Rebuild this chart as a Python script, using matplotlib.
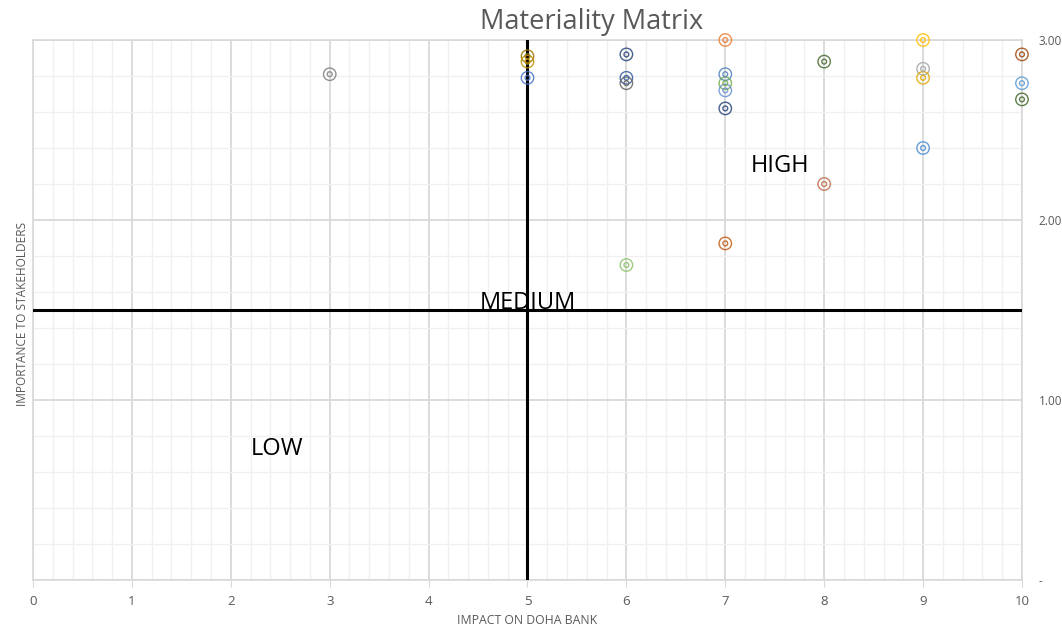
import matplotlib.pyplot as plt
from matplotlib.ticker import MultipleLocator

plt.rcParams['font.family'] = ['Open Sans', 'DejaVu Sans']

# impact on bank (x), importance to stakeholders (y), marker colour
impact = [3, 5, 5, 5, 6, 6, 6, 7, 7, 7, 7, 7, 8, 9, 9, 9, 10, 10, 10, 9, 8, 7, 6]
importance = [2.81, 2.91, 2.88, 2.79, 2.92, 2.79, 2.76, 3.00, 2.81, 2.76, 2.72, 2.62,
              2.88, 3.00, 2.84, 2.79, 2.92, 2.76, 2.67, 2.40, 2.20, 1.87, 1.75]
colors = ['#7F7F7F', '#997300', '#BF9000', '#4472C4', '#264478', '#335AA1', '#636363',
          '#ED7D31', '#4F81BD', '#70AD47', '#698ED0', '#264478', '#43682B', '#FFC000',
          '#A5A5A5', '#E0A800', '#9E480E', '#5B9BD5', '#43682B', '#4C8BD0', '#BC6B45',
          '#C55A11', '#8CC168']

x_ticks = list(range(0, 11))
y_ticks = [0, 1, 2, 3]
y_tick_labels = ['-', '1.00', '2.00', '3.00']

fig = plt.figure(figsize=(10.62, 6.28), dpi=100)
ax = fig.add_axes([0.0311, 0.0764, 0.9312, 0.8599])

ax.set_xlim(0, 10)
ax.set_ylim(0, 3)

# grid
ax.xaxis.set_major_locator(MultipleLocator(1))
ax.xaxis.set_minor_locator(MultipleLocator(0.2))
ax.yaxis.set_major_locator(MultipleLocator(1))
ax.yaxis.set_minor_locator(MultipleLocator(0.2))
ax.grid(which='major', color='#D9D9D9', linewidth=1.3)
ax.grid(which='minor', color='#F0F0F0', linewidth=1.0)
ax.set_axisbelow(True)
for s in ax.spines.values():
    s.set_color('#D9D9D9')
    s.set_linewidth(1.2)

# quadrant lines
ax.axvline(5, color='black', linewidth=2.2, zorder=3)
ax.axhline(1.5, color='black', linewidth=2.2, zorder=3)

# target-style markers
ax.scatter(impact, importance, s=80, facecolors='none', edgecolors=colors,
           linewidths=1.0, alpha=0.85, zorder=4, clip_on=False)
ax.scatter(impact, importance, s=12, facecolors='none', edgecolors=colors,
           linewidths=1.0, alpha=0.85, zorder=4, clip_on=False)

# ticks
ax.set_xticks(x_ticks)
ax.set_xticklabels([str(t) for t in x_ticks])
ax.set_yticks(y_ticks)
ax.set_yticklabels(y_tick_labels)
ax.yaxis.tick_right()
ax.tick_params(axis='x', which='major', length=5, color='#D9D9D9', labelsize=9.5,
               labelcolor='#595959', pad=6)
ax.tick_params(axis='y', which='major', length=0, labelsize=8.5,
               labelcolor='#595959', pad=12)
ax.tick_params(which='minor', length=0)

ax.set_xlabel('IMPACT ON DOHA BANK', fontsize=8.8, color='#595959', labelpad=4)
fig.text(0.021, 0.5, 'IMPORTANCE TO STAKEHOLDERS', rotation=90, fontsize=8.6,
         color='#595959', ha='center', va='center')

fig.text(0.557, 0.965, 'Materiality Matrix', fontsize=19.5, color='#595959',
         ha='center', va='center')

# quadrant labels
ax.text(7.55, 2.3, 'HIGH', fontsize=17, ha='center', va='center', zorder=5)
ax.text(5.0, 1.47, 'MEDIUM', fontsize=17, ha='center', va='bottom', zorder=5)
ax.text(2.47, 0.73, 'LOW', fontsize=17, ha='center', va='center', zorder=5)

fig.savefig('out.png', dpi=100)
